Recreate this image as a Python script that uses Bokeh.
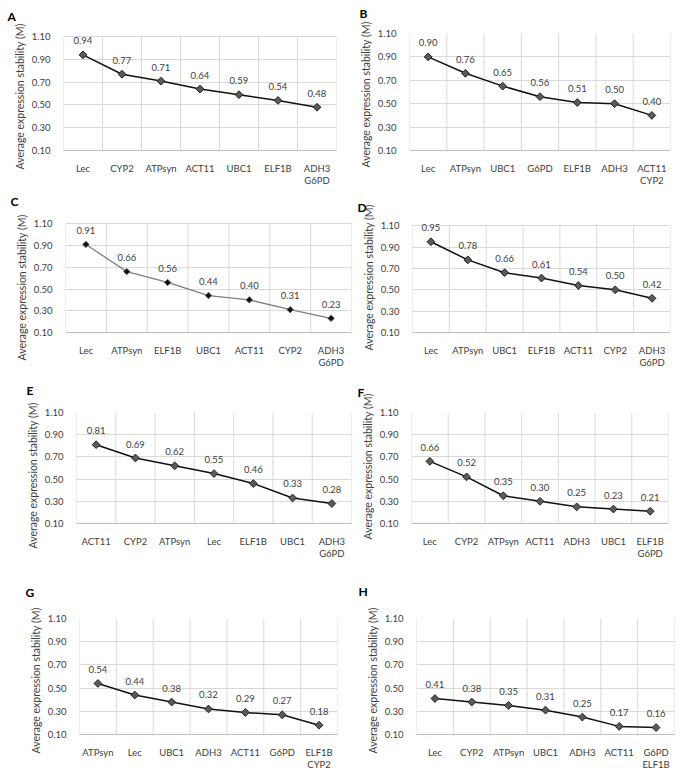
from bokeh.plotting import figure
from bokeh.layouts import column, row
from bokeh.models import Range1d, FixedTicker, LabelSet, ColumnDataSource, Title
from bokeh.core.properties import value
from bokeh.embed import file_html
from bokeh.resources import INLINE
import math

# ---------------- data ----------------
a_genes = ["Lec", "CYP2", "ATPsyn", "ACT11", "UBC1", "ELF1B", "ADH3\nG6PD"]
a_vals = [0.94, 0.77, 0.71, 0.64, 0.59, 0.54, 0.48]
b_genes = ["Lec", "ATPsyn", "UBC1", "G6PD", "ELF1B", "ADH3", "ACT11\nCYP2"]
b_vals = [0.90, 0.76, 0.65, 0.56, 0.51, 0.50, 0.40]
c_genes = ["Lec", "ATPsyn", "ELF1B", "UBC1", "ACT11", "CYP2", "ADH3\nG6PD"]
c_vals = [0.91, 0.66, 0.56, 0.44, 0.40, 0.31, 0.23]
d_genes = ["Lec", "ATPsyn", "UBC1", "ELF1B", "ACT11", "CYP2", "ADH3\nG6PD"]
d_vals = [0.95, 0.78, 0.66, 0.61, 0.54, 0.50, 0.42]
e_genes = ["ACT11", "CYP2", "ATPsyn", "Lec", "ELF1B", "UBC1", "ADH3\nG6PD"]
e_vals = [0.81, 0.69, 0.62, 0.55, 0.46, 0.33, 0.28]
f_genes = ["Lec", "CYP2", "ATPsyn", "ACT11", "ADH3", "UBC1", "ELF1B\nG6PD"]
f_vals = [0.66, 0.52, 0.35, 0.30, 0.25, 0.23, 0.21]
g_genes = ["ATPsyn", "Lec", "UBC1", "ADH3", "ACT11", "G6PD", "ELF1B\nCYP2"]
g_vals = [0.54, 0.44, 0.38, 0.32, 0.29, 0.27, 0.18]
h_genes = ["Lec", "CYP2", "ATPsyn", "UBC1", "ADH3", "ACT11", "G6PD\nELF1B"]
h_vals = [0.41, 0.38, 0.35, 0.31, 0.25, 0.17, 0.16]
panel_letters = ["A", "B", "C", "D", "E", "F", "G", "H"]
y_ticks = [0.10, 0.30, 0.50, 0.70, 0.90, 1.10]
y_label = "Average expression stability (M)"

FONT = "Lato"
GRID = "#d9d9d9"

# picture geometry: frame (L, T, R, B), letter top-left (x, y), y-label centre y,
# extra lift of the letter (px)
COL_SPLIT = 354
COL_END = 680
ROWS = [(0, 190), (190, 380), (380, 578), (578, 772)]
geo = {
    "A": ((63, 33, 336, 150), (7, 8), 99, 0),
    "B": ((407, 33, 670, 152), (357, 10), 99, 2),
    "C": ((65, 223, 351, 332), (10, 198), 290, 2),
    "D": ((412, 220, 670, 342), (357, 198), 290, 2),
    "E": ((76, 411, 351, 523), (26, 384), 478, 0),
    "F": ((411, 411, 668, 532), (357, 386), 478, 0),
    "G": ((79, 617, 337, 736), (25, 593), 685, 7),
    "H": ((416, 618, 674, 737), (358, 593), 686, 7),
}
LABEL_OFF = 14
YLAB_LEN = 140


def make_panel(letter, genes, vals, idx):
    r = idx // 2
    c = idx % 2
    y0, y1 = ROWS[r]
    if c == 0:
        x0, x1 = 0, COL_SPLIT
    else:
        x0, x1 = COL_SPLIT, COL_END
    (L, T, R, B), (lx, ly), ycy, lift = geo[letter]
    n = len(genes)
    ymin, ymax = y_ticks[0], y_ticks[-1]
    ppu = (B - T) / (ymax - ymin)
    # extra room above the top gridline so that high data labels are not cut
    label_top = (ymax - max(vals)) * ppu - LABEL_OFF - 6
    pad = max(0.0, 2 - label_top)
    Tf = T - pad

    p = figure(width=x1 - x0, height=y1 - y0,
               min_border_left=L - x0, min_border_right=x1 - R,
               min_border_top=int(round(Tf - y0)), min_border_bottom=y1 - B,
               x_range=Range1d(-0.5, n - 0.5),
               y_range=Range1d(ymin, ymax + pad / ppu),
               output_backend="svg", toolbar_location=None)
    p.outline_line_color = None
    p.background_fill_color = "white"
    p.border_fill_color = "white"

    # spacer between frame and the panel letter
    sp = max(0, int(round(Tf - ly - 12)) - 3 + lift)
    p.add_layout(Title(text=" ", text_font_size="1px", standoff=sp), "above")
    # panel letter as title
    p.title.text = letter
    p.title.align = "left"
    p.title.offset = lx - L
    p.title.text_font = FONT
    p.title.text_font_style = "bold"
    p.title.text_font_size = "12px"
    p.title.text_color = "#000000"
    p.title.standoff = 0

    xs = list(range(n))
    src = ColumnDataSource(dict(x=xs, y=vals, lab=["%.2f" % v for v in vals]))

    # vertical category gridlines, limited to the value scale
    bx = [i - 0.5 for i in range(n + 1)]
    p.segment(x0=bx, y0=[ymin] * len(bx), x1=bx, y1=[ymax] * len(bx),
              line_color=GRID, line_width=1, level="underlay")

    if letter == "C":
        p.line("x", "y", source=src, line_color="#7f7f7f", line_width=1.3)
        p.scatter("x", "y", source=src, marker="square", angle=math.pi / 4,
                  size=4.5, fill_color="#111111", line_color="#555555", line_width=1)
    else:
        p.line("x", "y", source=src, line_color="#111111", line_width=1.5)
        p.scatter("x", "y", source=src, marker="square", angle=math.pi / 4,
                  size=5.5, fill_color="#5a5a5a", line_color="#222222", line_width=1)

    p.add_layout(LabelSet(x="x", y="y", text="lab", source=src, text_align="center",
                          text_baseline="middle", y_offset=LABEL_OFF, text_font_size="9.5px",
                          text_color="#404040", text_font=value(FONT)))

    # axes
    p.xaxis.ticker = FixedTicker(ticks=xs)
    p.xaxis.major_label_overrides = {i: g for i, g in enumerate(genes)}
    p.xaxis.major_label_text_font = FONT
    p.xaxis.major_label_text_font_size = "9.5px"
    p.xaxis.major_label_text_color = "#404040"
    p.xaxis.major_label_text_line_height = 1.1
    p.xaxis.major_label_standoff = 6
    p.xaxis.axis_line_color = "#bfbfbf"
    p.xaxis.major_tick_line_color = None
    p.xaxis.minor_tick_line_color = None

    p.yaxis.ticker = FixedTicker(ticks=y_ticks)
    p.yaxis.major_label_overrides = {t: "%.2f" % t for t in y_ticks}
    p.yaxis.major_label_text_font = FONT
    p.yaxis.major_label_text_font_size = "9.5px"
    p.yaxis.major_label_text_color = "#404040"
    p.yaxis.major_label_standoff = 7
    p.yaxis.axis_line_color = None
    p.yaxis.major_tick_line_color = None
    p.yaxis.minor_tick_line_color = None

    # y-axis title, placed beside the tick labels
    p.add_layout(Title(text=y_label, align="left", offset=B - (ycy + YLAB_LEN / 2),
                       vertical_align="bottom", standoff=6,
                       text_font=FONT, text_font_size="10.5px",
                       text_font_style="normal", text_color="#404040"), "left")

    # grid
    p.xgrid.grid_line_color = None
    p.ygrid.ticker = FixedTicker(ticks=y_ticks)
    p.ygrid.grid_line_color = GRID
    return p


data = [(a_genes, a_vals), (b_genes, b_vals), (c_genes, c_vals), (d_genes, d_vals),
        (e_genes, e_vals), (f_genes, f_vals), (g_genes, g_vals), (h_genes, h_vals)]
figs = [make_panel(panel_letters[i], g, v, i) for i, (g, v) in enumerate(data)]

layout = column(row(figs[0], figs[1]), row(figs[2], figs[3]),
                row(figs[4], figs[5]), row(figs[6], figs[7]))

open("out.html", "w").write(file_html(layout, INLINE))
